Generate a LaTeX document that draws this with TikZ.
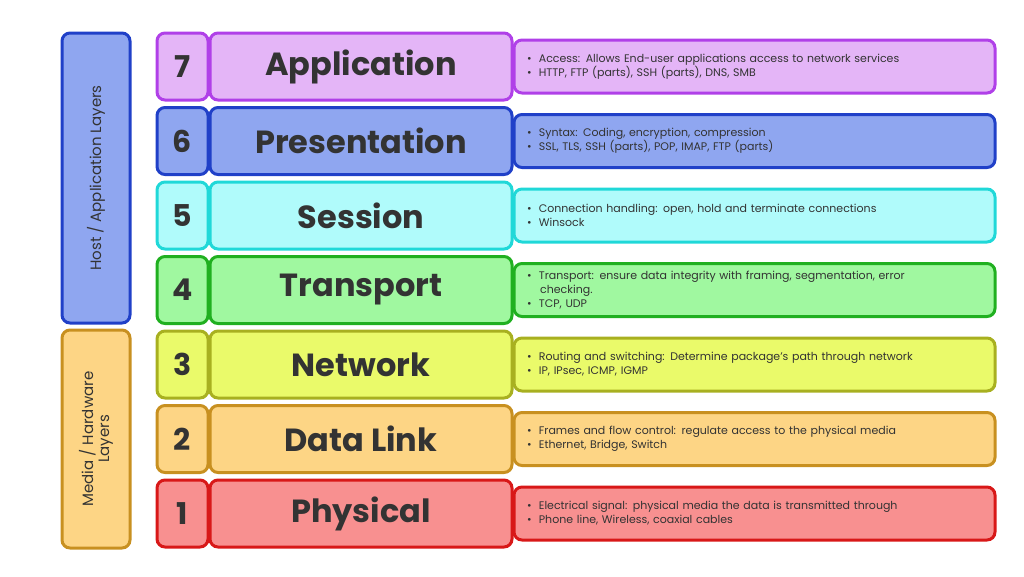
\documentclass[tikz,border=0pt]{standalone}
\usepackage{fontspec}
\setmainfont{Poppins}
\usetikzlibrary{positioning}
\definecolor{appfill}{HTML}{E4B5F7}\definecolor{appline}{HTML}{B040E8}
\definecolor{prefill}{HTML}{8FA6F0}\definecolor{preline}{HTML}{2040C8}
\definecolor{sesfill}{HTML}{B0FBFB}\definecolor{sesline}{HTML}{20D8D8}
\definecolor{trafill}{HTML}{A0F8A0}\definecolor{traline}{HTML}{20B020}
\definecolor{netfill}{HTML}{EAFA6A}\definecolor{netline}{HTML}{A8B020}
\definecolor{datfill}{HTML}{FDD585}\definecolor{datline}{HTML}{C89020}
\definecolor{phyfill}{HTML}{F89090}\definecolor{phyline}{HTML}{D81818}
\begin{document}
\begin{tikzpicture}[
    x=1pt, y=-1pt,
    lbox/.style={rectangle, draw, rounded corners=8pt, line width=3pt, inner sep=0pt, text=black!80},
    numbox/.style={lbox, minimum width=51pt, minimum height=67pt, font=\fontsize{30}{30}\selectfont\bfseries},
    namebox/.style={lbox, minimum width=302pt, minimum height=67pt, font=\fontsize{32}{32}\selectfont\bfseries},
    descbox/.style={lbox, minimum width=481pt, minimum height=53pt, text width=455pt, align=left, font=\fontsize{11}{14}\selectfont},
    sidebox/.style={lbox, minimum width=68pt, font=\fontsize{15}{18}\selectfont, align=center}
]
\useasboundingbox (0,0) rectangle (1024,576);
% side groups
\node[sidebox, fill=prefill, draw=preline, minimum height=290pt] (host) at (96,178)
    {\rotatebox{90}{Host / Application Layers}};
\node[sidebox, fill=datfill, draw=datline, minimum height=218pt] (media) at (96,439)
    {\rotatebox{90}{\shortstack{Media / Hardware\\Layers}}};
% layers
\foreach \n/\name/\c/\desc in {
    7/Application/app/{• \ Access: Allows End-user applications access to network services\\• \ HTTP, FTP (parts), SSH (parts), DNS, SMB},
    6/Presentation/pre/{• \ Syntax: Coding, encryption, compression\\• \ SSL, TLS, SSH (parts), POP, IMAP, FTP (parts)},
    5/Session/ses/{• \ Connection handling: open, hold and terminate connections\\• \ Winsock},
    4/Transport/tra/{• \ Transport: ensure data integrity with framing, segmentation, error\\\hspace*{1.2em}checking.\\• \ TCP, UDP},
    3/Network/net/{• \ Routing and switching: Determine package's path through network\\• \ IP, IPsec, ICMP, IGMP},
    2/Data Link/dat/{• \ Frames and flow control: regulate access to the physical media\\• \ Ethernet, Bridge, Switch},
    1/Physical/phy/{• \ Electrical signal: physical media the data is transmitted through\\• \ Phone line, Wireless, coaxial cables}} {
  \pgfmathsetmacro{\rowy}{66.5+(7-\n)*74.5}
  \node[numbox, fill=\c fill, draw=\c line] (num\n) at (182.5,\rowy) {\n};
  \node[namebox, fill=\c fill, draw=\c line] (name\n) at (361,\rowy) {\name};
  \node[descbox, fill=\c fill, draw=\c line] (desc\n) at (754.5,\rowy) {\desc};
}
\end{tikzpicture}
\end{document}
